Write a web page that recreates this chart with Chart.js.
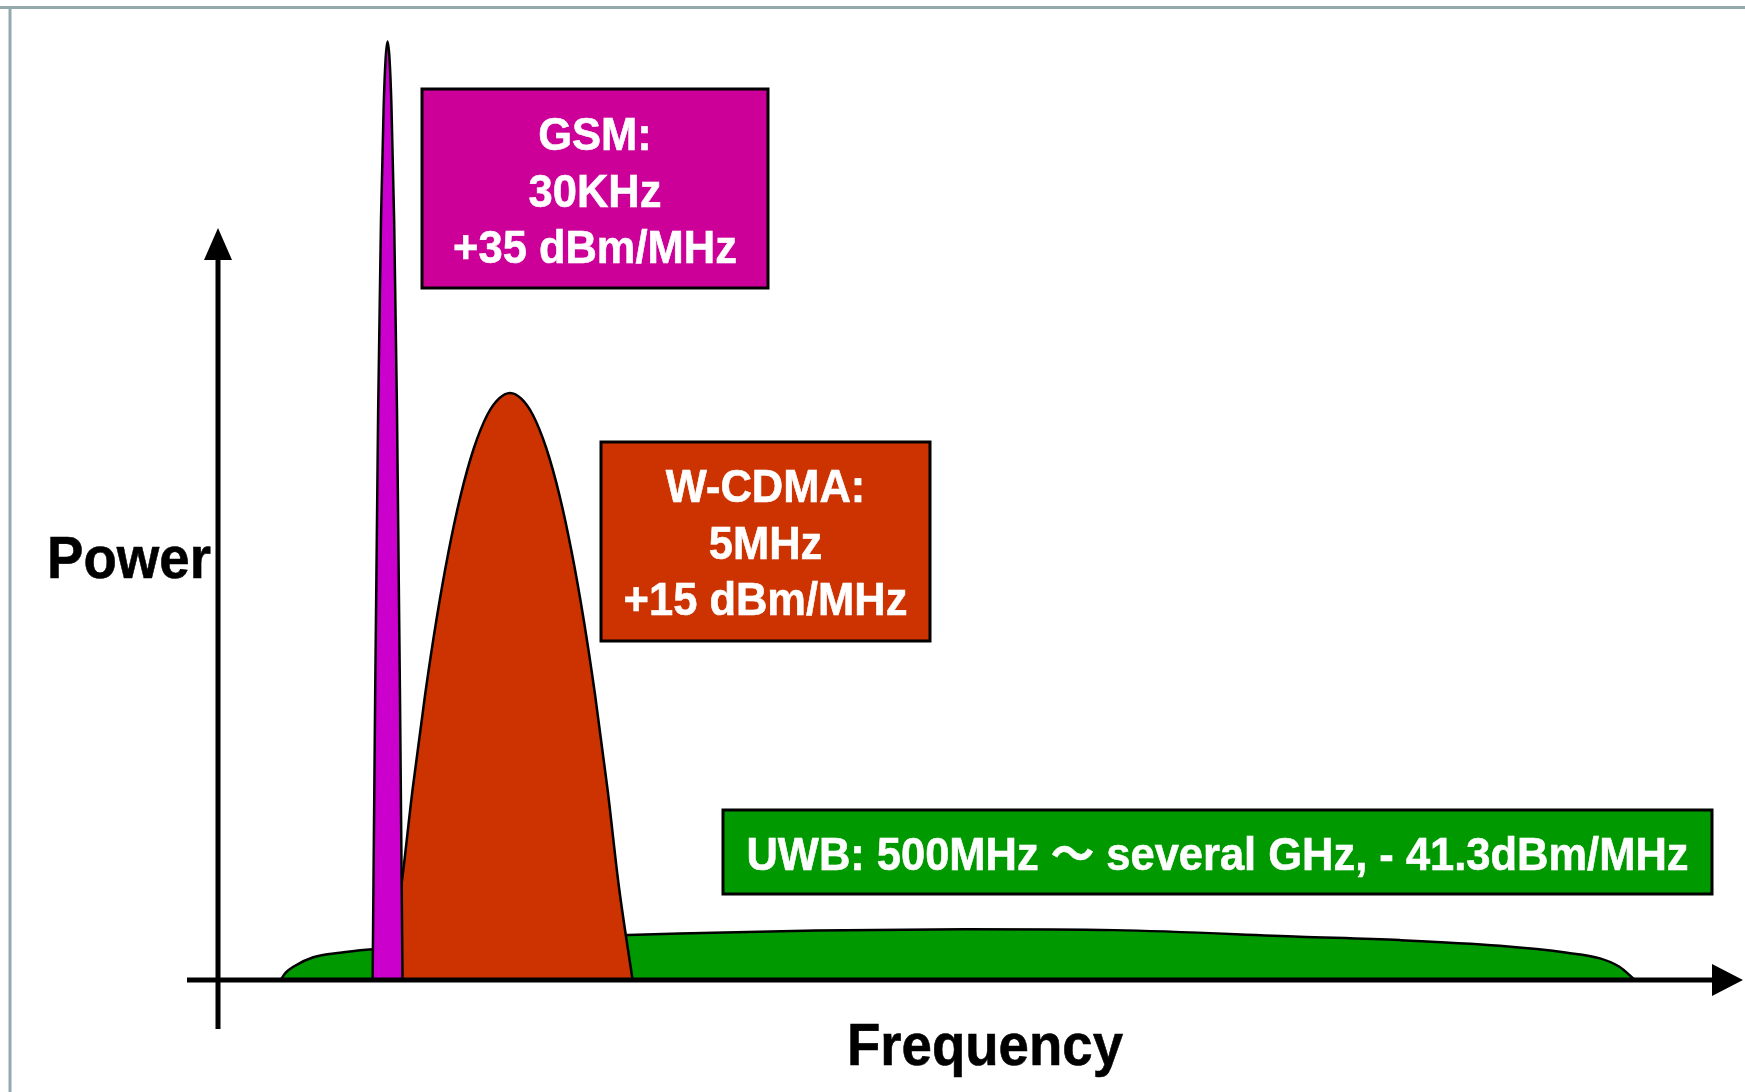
<!DOCTYPE html>
<html>
<head>
<meta charset="utf-8">
<title>Power vs Frequency</title>
<script src="https://cdn.jsdelivr.net/npm/chart.js"></script>
<style>
    html, body { margin: 0; padding: 0; background: #fff; }
    #spectrum-chart { display: block; }
</style>
</head>
<body>
<canvas id="spectrum-chart" width="1745" height="1092"></canvas>
<script>
// spectrum data (frequency and power in relative units, 0-100)
const gsmFreq    = [10.35, 10.52, 10.72, 10.91, 11.09, 11.22, 11.35, 11.48, 11.61, 11.79, 11.98, 12.18, 12.35];
const gsmPower   = [0, 30, 60, 80, 92, 97, 98.8, 97, 92, 80, 60, 30, 0];

const wcdmaFreq  = [11.35, 12.28, 13.02, 13.86, 14.63, 15.42, 16.24, 17.13, 18.03, 18.8, 19.55, 20.3, 21.07, 21.97, 22.86, 23.68, 24.47, 25.24, 26.08, 26.82, 27.75];
const wcdmaPower = [0, 10, 20, 30, 38, 45, 51, 56, 59.5, 61.2, 61.8, 61.2, 59.5, 56, 51, 45, 38, 30, 20, 10, 0];

const uwbFreq    = [4.18, 4.55, 5.04, 6.38, 8.17, 10.35, 15, 20, 27.46, 30.9, 40, 50, 60, 72.4, 79.1, 85.8, 90.3, 92.5, 93.8, 94.85];
const uwbPower   = [0, 0.8, 1.4, 2.39, 2.87, 3.23, 3.8, 4.2, 4.74, 4.9, 5.2, 5.34, 5.25, 4.56, 4.2, 3.6, 2.87, 2.28, 1.4, 0];

// label texts
const gsmText    = ['GSM:', '30KHz', '+35 dBm/MHz'];
const wcdmaText  = ['W-CDMA:', '5MHz', '+15 dBm/MHz'];
const uwbText    = ['UWB: 500MHz ～ several GHz, - 41.3dBm/MHz'];
const yAxisTitle = 'Power';
const xAxisTitle = 'Frequency';

const FONT = '"Liberation Sans", Arial, "Noto Sans CJK SC", sans-serif';

// build {x, y} points
function toPoints(freq, power) {
    return freq.map((f, i) => ({ x: f, y: power[i] }));
}

// draw condensed bold text
function drawText(ctx, text, x, y, size, color, squeeze) {
    ctx.save();
    ctx.font = 'bold ' + size + 'px ' + FONT;
    ctx.fillStyle = color;
    ctx.strokeStyle = color;
    ctx.lineWidth = 0.6;
    ctx.textAlign = 'center';
    ctx.textBaseline = 'alphabetic';
    ctx.translate(x, y);
    ctx.scale(squeeze, 1);
    ctx.fillText(text, 0, 0);
    ctx.strokeText(text, 0, 0);
    ctx.restore();
}

// draw a label box
function drawBox(ctx, box, lines, fill) {
    ctx.save();
    ctx.fillStyle = fill;
    ctx.fillRect(box.x, box.y, box.w, box.h);
    ctx.lineWidth = 3;
    ctx.strokeStyle = '#000';
    ctx.strokeRect(box.x, box.y, box.w, box.h);
    ctx.restore();
    lines.forEach((t, i) => {
        drawText(ctx, t, box.x + box.w / 2, box.firstBaseline + i * 56.5, 46, '#fff', 0.945);
    });
}

// frame, axes and labels
const decorPlugin = {
    id: 'decor',
    beforeDraw(chart) {
        const ctx = chart.ctx;
        ctx.save();
        ctx.fillStyle = '#fff';
        ctx.fillRect(0, 0, chart.width, chart.height);
        ctx.strokeStyle = '#93a9ad';
        ctx.lineWidth = 3;
        ctx.beginPath();
        ctx.moveTo(0, 7.5);
        ctx.lineTo(chart.width, 7.5);
        ctx.moveTo(10, 7.5);
        ctx.lineTo(10, chart.height);
        ctx.stroke();
        ctx.restore();
    },
    afterDraw(chart) {
        const ctx = chart.ctx;
        const x0 = chart.scales.x.getPixelForValue(0);
        const y0 = chart.scales.y.getPixelForValue(0);

        // axes
        ctx.save();
        ctx.strokeStyle = '#000';
        ctx.fillStyle = '#000';
        ctx.lineWidth = 5;
        ctx.beginPath();
        ctx.moveTo(x0 - 31, y0);
        ctx.lineTo(1714, y0);
        ctx.moveTo(x0, y0 + 49);
        ctx.lineTo(x0, 258);
        ctx.stroke();
        // x arrow
        ctx.beginPath();
        ctx.moveTo(1712, y0 - 16);
        ctx.lineTo(1743, y0);
        ctx.lineTo(1712, y0 + 16);
        ctx.closePath();
        ctx.fill();
        // y arrow
        ctx.beginPath();
        ctx.moveTo(x0 - 14, 260);
        ctx.lineTo(x0, 228);
        ctx.lineTo(x0 + 14, 260);
        ctx.closePath();
        ctx.fill();
        ctx.restore();

        drawText(ctx, yAxisTitle, 129, 578, 60, '#000', 0.91);
        drawText(ctx, xAxisTitle, 985, 1065, 60, '#000', 0.91);

        drawBox(ctx, { x: 422, y: 89, w: 346, h: 199, firstBaseline: 150 }, gsmText, '#cc0099');
        drawBox(ctx, { x: 601, y: 442, w: 329, h: 199, firstBaseline: 502 }, wcdmaText, '#cc3300');
        drawBox(ctx, { x: 723, y: 810, w: 989, h: 84, firstBaseline: 870 }, uwbText, '#009900');
    }
};

// init chart
function initChart() {
    const ctx = document.getElementById('spectrum-chart').getContext('2d');
    const common = {
        borderColor: '#000',
        borderWidth: 2.5,
        fill: 'origin',
        pointRadius: 0,
        cubicInterpolationMode: 'monotone',
        clip: false
    };
    new Chart(ctx, {
        type: 'line',
        data: {
            datasets: [
                Object.assign({ label: 'GSM', data: toPoints(gsmFreq, gsmPower), backgroundColor: '#cc00cc', order: 1 }, common),
                Object.assign({ label: 'W-CDMA', data: toPoints(wcdmaFreq, wcdmaPower), backgroundColor: '#cc3300', order: 2 }, common),
                Object.assign({ label: 'UWB', data: toPoints(uwbFreq, uwbPower), backgroundColor: '#009900', order: 3 }, common)
            ]
        },
        options: {
            responsive: false,
            animation: false,
            devicePixelRatio: 1,
            layout: { padding: { left: 218, right: 33, top: 30, bottom: 112 } },
            scales: {
                x: { type: 'linear', min: 0, max: 100, display: false },
                y: { type: 'linear', min: 0, max: 100, display: false }
            },
            plugins: {
                legend: { display: false },
                tooltip: { enabled: false }
            }
        },
        plugins: [decorPlugin]
    });
}

initChart();
</script>
</body>
</html>
